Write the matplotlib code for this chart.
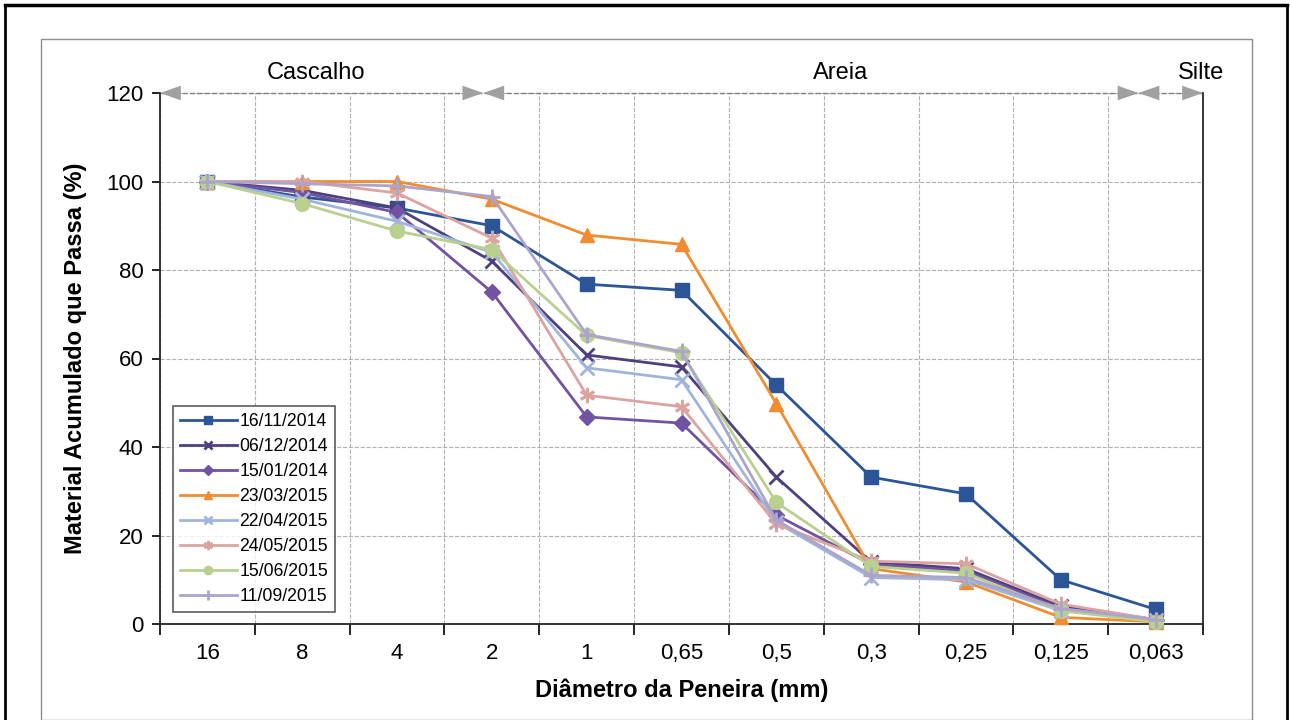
import numpy as np
import matplotlib
matplotlib.use("Agg")
import matplotlib.pyplot as plt
from matplotlib.lines import Line2D
from matplotlib.patches import Rectangle

plt.rcParams['font.family'] = ['Liberation Sans', 'DejaVu Sans']

# peneiras (mm)
sieves = ["16", "8", "4", "2", "1", "0,65", "0,5", "0,3", "0,25", "0,125", "0,063"]

dates = ["16/11/2014", "06/12/2014", "15/01/2014", "23/03/2015",
         "22/04/2015", "24/05/2015", "15/06/2015", "11/09/2015"]

s_161114 = [100, 96.5, 94, 90, 76.8, 75.4, 54, 33.2, 29.4, 10, 3.3]
s_061214 = [100, 98, 94, 82, 60.8, 58.1, 33.2, 14, 12.5, 4, 1]
s_150114 = [100, 97.5, 93, 75, 46.8, 45.4, 24.6, 13.5, 12, 3.5, 1]
s_230315 = [100, 100, 100, 96, 87.9, 85.8, 49.8, 12.5, 9.5, 1.5, 0.5]
s_220415 = [100, 96, 91, 84, 57.9, 55.2, 23, 10.5, 10, 3, 1]
s_240515 = [100, 100, 97.4, 87.2, 51.7, 49.1, 22.6, 14.2, 13.6, 4.5, 1]
s_150615 = [100, 95, 88.8, 84.6, 65.2, 61.3, 27.5, 13, 11.5, 3, 0.5]
s_110915 = [100, 99.5, 99, 96.6, 65.4, 61.6, 23.5, 11, 10.5, 3.5, 1]

series = [s_161114, s_061214, s_150114, s_230315, s_220415, s_240515, s_150615, s_110915]
colors = ["#2B5597", "#4E3F7E", "#7153A1", "#F28C30",
          "#9FB5DB", "#DCA3A1", "#B9D08F", "#ABA5CC"]
markers = ["s", "x", "D", "^", "x", (6, 2, 0), "o", "+"]
msizes = [10, 10, 8, 10, 10, 11, 10, 11]

# classes granulometricas: (inicio, fim, rotulo, posicao do rotulo)
classes = [(-0.5, 2.91, "Cascalho", 1.15),
           (2.91, 9.82, "Areia", 6.68),
           (9.82, 10.5, "Silte", 10.48)]

W, H = 1290, 720
fig = plt.figure(figsize=(W / 100, H / 100), dpi=100)

# molduras
fig.add_artist(Rectangle((41 / W, 0), (1252 - 41) / W, (720 - 39) / H,
                         transform=fig.transFigure, fill=False,
                         edgecolor="#8c8c8c", lw=1))
fig.add_artist(Line2D([5 / W, 1287 / W], [1 - 5 / H, 1 - 5 / H], color="black", lw=2.5))
fig.add_artist(Line2D([5 / W, 5 / W], [0, 1 - 5 / H], color="black", lw=2))
fig.add_artist(Line2D([1287 / W, 1287 / W], [0, 1 - 5 / H], color="black", lw=2))

ax = fig.add_axes([160 / W, (720 - 624) / H, (1203 - 160) / W, (624 - 93) / H])

x = np.arange(len(sieves))
for vals, c, m, ms, lab in zip(series, colors, markers, msizes, dates):
    ax.plot(x, vals, color=c, marker=m, markersize=ms, lw=2, label=lab,
            markeredgewidth=2 if m in ("x", "+") or isinstance(m, tuple) else 1,
            clip_on=False, zorder=3)

ax.set_xlim(-0.5, len(sieves) - 0.5)
ax.set_ylim(0, 120)
ax.set_yticks(np.arange(0, 121, 20))
ax.set_xticks(x)
ax.set_xticklabels(sieves)
ax.set_xticks(np.arange(-0.5, len(sieves), 1), minor=True)
ax.tick_params(axis="x", which="major", length=0, labelsize=16, pad=14)
ax.tick_params(axis="x", which="minor", length=8, width=1.2, direction="out")
ax.tick_params(axis="y", length=6, width=1.2, labelsize=16, pad=6)

ax.grid(axis="y", which="major", color="#b0b0b0", ls="--", lw=0.8)
ax.grid(axis="x", which="minor", color="#b0b0b0", ls="--", lw=0.8)
ax.set_axisbelow(True)

ax.spines["top"].set_visible(False)
for s in ("left", "bottom", "right"):
    ax.spines[s].set_color("#262626")
    ax.spines[s].set_linewidth(1.3)

# setas das classes
ax.plot([-0.5, 10.5], [120, 120], color="#808080", ls="--", lw=1, clip_on=False, zorder=2)
for x0, x1, lab, xt in classes:
    ax.annotate("", xy=(x1, 120), xytext=(x0, 120),
                arrowprops=dict(arrowstyle="<|-|>,head_length=1.0,head_width=0.35",
                                mutation_scale=15, color="#a0a0a0", lw=0,
                                shrinkA=0, shrinkB=0),
                annotation_clip=False, zorder=4)
    ax.text(xt, 124.5, lab, ha="center", va="center", fontsize=17)

ax.set_ylabel("Material Acumulado que Passa (%)", fontsize=17, fontweight="bold", labelpad=14)
ax.set_xlabel("Diâmetro da Peneira (mm)", fontsize=17, fontweight="bold", labelpad=10)

leg = ax.legend(loc="lower left", bbox_to_anchor=(173 / W, (720 - 612) / H),
                bbox_transform=fig.transFigure, fontsize=12.7, frameon=True,
                fancybox=False, edgecolor="#333333", markerscale=0.6,
                handlelength=3.2, handletextpad=0.15, labelspacing=0.45,
                borderpad=0.4, borderaxespad=0)
leg.get_frame().set_linewidth(1.2)

fig.savefig("out.png", dpi=100)
